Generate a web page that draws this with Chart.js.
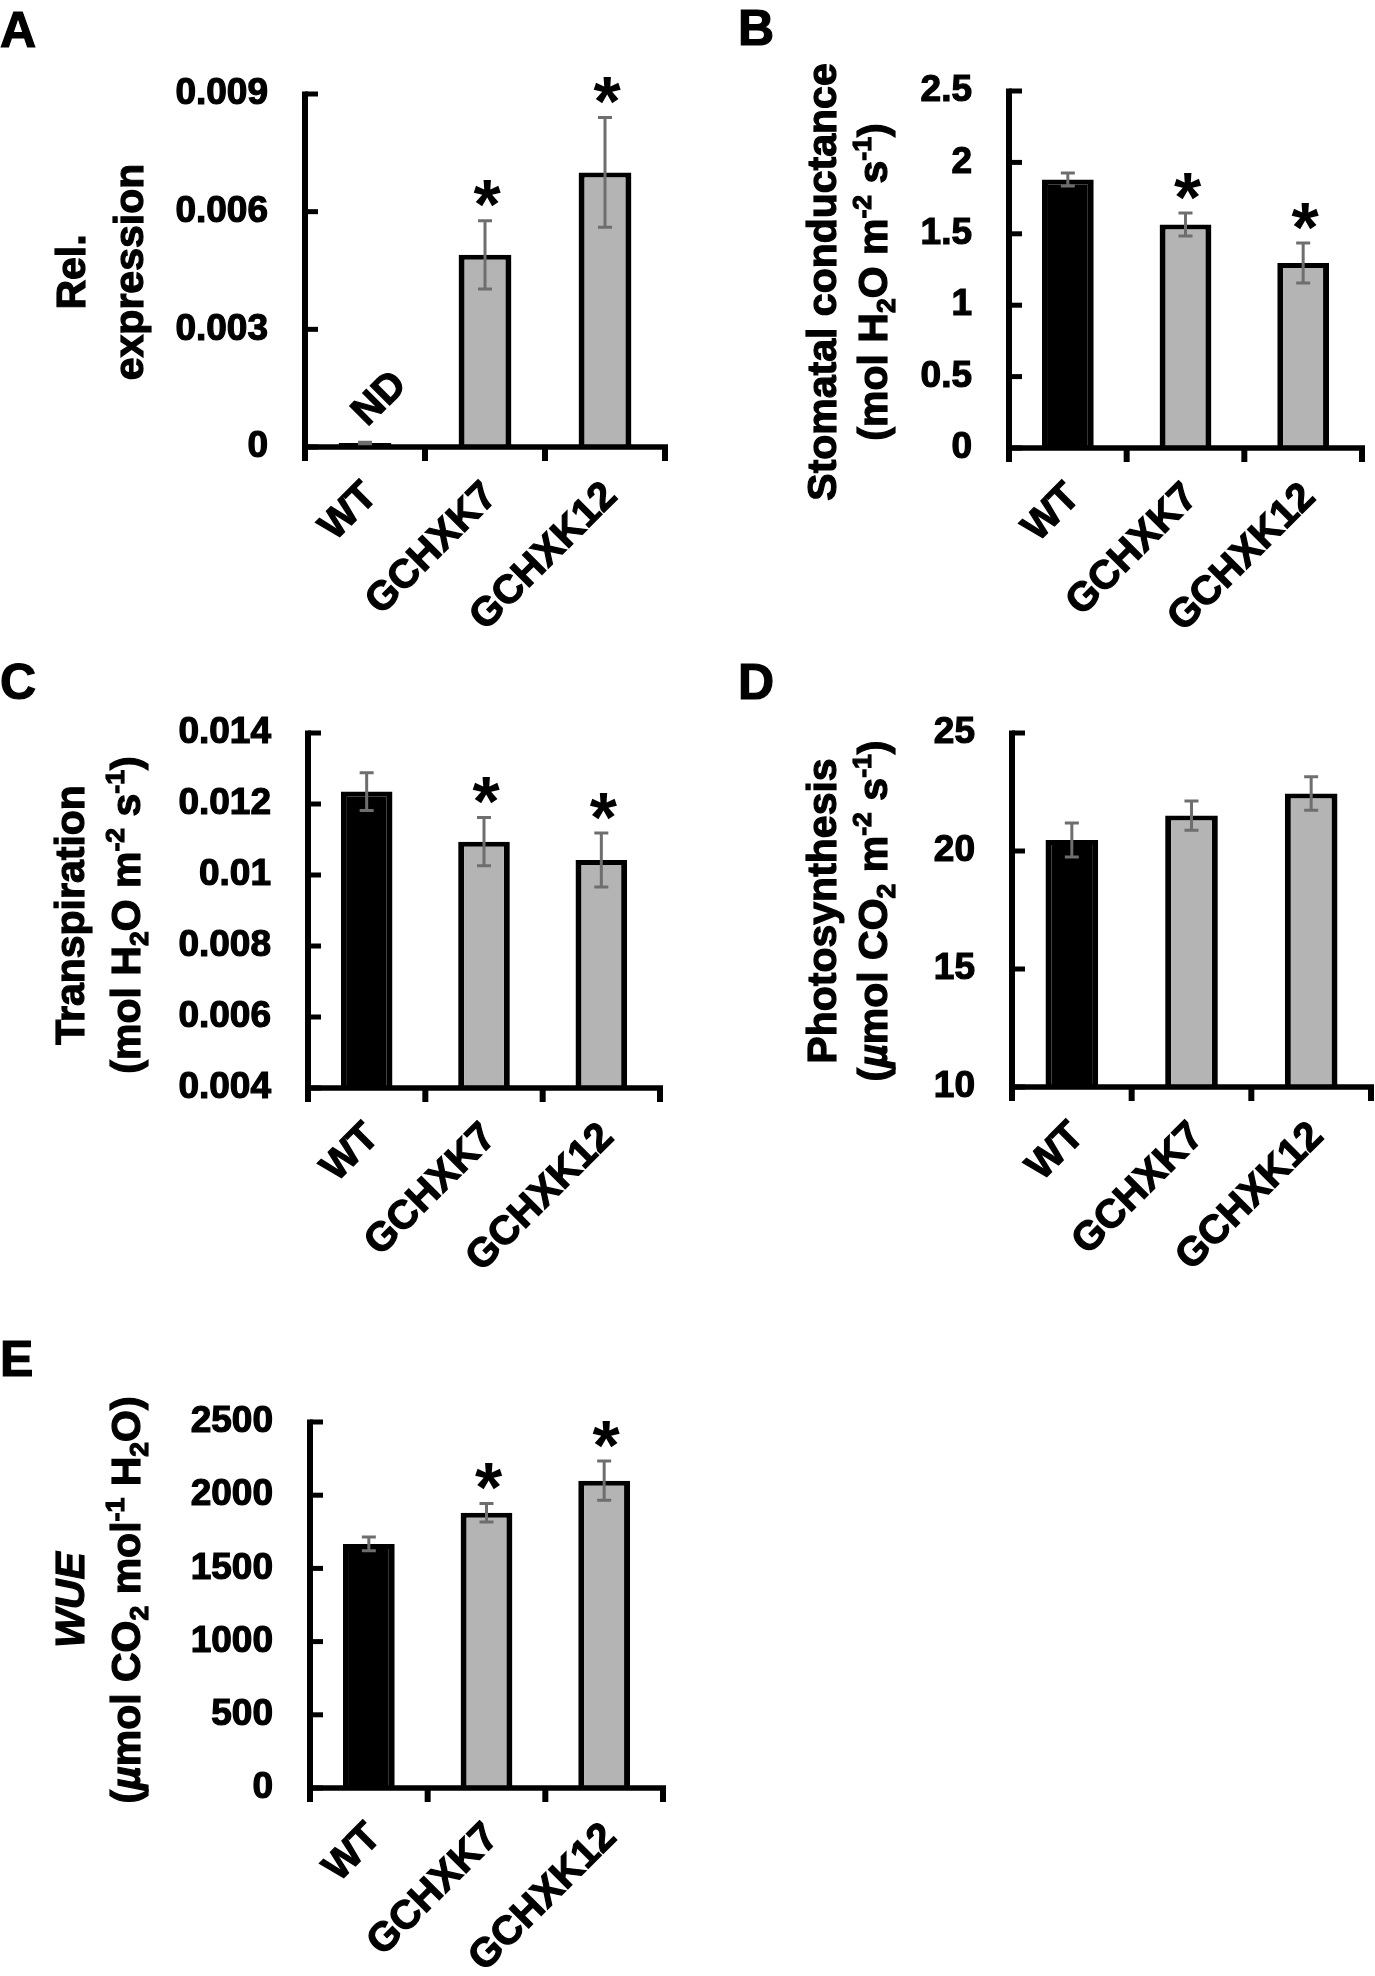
<!DOCTYPE html>
<html>
<head>
<meta charset="utf-8">
<script src="https://cdn.jsdelivr.net/npm/chart.js@4.4.1/dist/chart.umd.min.js"></script>
<style>
  html, body { margin:0; padding:0; background:#fff; width:1375px; height:1976px; overflow:hidden; }
  .panel { position:absolute; }
  .panel canvas { display:block; }
</style>
</head>
<body>
<div id="boxA" class="panel" style="left:0px;top:0px;width:690px;height:655px"><canvas id="cA"></canvas></div>
<div id="boxB" class="panel" style="left:690px;top:0px;width:700px;height:655px"><canvas id="cB"></canvas></div>
<div id="boxC" class="panel" style="left:0px;top:655px;width:690px;height:655px"><canvas id="cC"></canvas></div>
<div id="boxD" class="panel" style="left:690px;top:655px;width:700px;height:655px"><canvas id="cD"></canvas></div>
<div id="boxE" class="panel" style="left:0px;top:1310px;width:690px;height:666px"><canvas id="cE"></canvas></div>
<script>
// ---------------- DATA ----------------
const categories = ['WT', 'GCHXK7', 'GCHXK12'];

const relExpression    = [0.0001, 0.0049, 0.0070];
const relExpressionErr = [0.00002, 0.00087, 0.0014];
const relExpressionMark = ['ND', '*', '*'];
const ticksA      = [0, 0.003, 0.006, 0.009];
const tickLabelsA = ['0', '0.003', '0.006', '0.009'];

const stomatalConductance    = [1.88, 1.565, 1.295];
const stomatalConductanceErr = [0.045, 0.08, 0.14];
const stomatalConductanceMark = ['', '*', '*'];
const ticksB      = [0, 0.5, 1, 1.5, 2, 2.5];
const tickLabelsB = ['0', '0.5', '1', '1.5', '2', '2.5'];

const transpiration    = [0.01235, 0.01094, 0.01042];
const transpirationErr = [0.00053, 0.00068, 0.00076];
const transpirationMark = ['', '*', '*'];
const ticksC      = [0.004, 0.006, 0.008, 0.010, 0.012, 0.014];
const tickLabelsC = ['0.004', '0.006', '0.008', '0.01', '0.012', '0.014'];

const photosynthesis    = [20.47, 21.5, 22.44];
const photosynthesisErr = [0.72, 0.62, 0.71];
const photosynthesisMark = ['', '', ''];
const ticksD      = [10, 15, 20, 25];
const tickLabelsD = ['10', '15', '20', '25'];

const wue    = [1667, 1880, 2099];
const wueErr = [47, 63, 134];
const wueMark = ['', '*', '*'];
const ticksE      = [0, 500, 1000, 1500, 2000, 2500];
const tickLabelsE = ['0', '500', '1000', '1500', '2000', '2500'];

const barColors = ['#000000', '#b4b4b4', '#b4b4b4'];

// ---------------- STYLE ----------------
const FONT = '"Liberation Sans", Arial, Helvetica, sans-serif';
const TICK_SIZE = 37, CAT_SIZE = 40, TITLE_SIZE = 41, LETTER_SIZE = 50, STAR_SIZE = 70;
const TEXT_STROKE = 1.2;

function drawRich(ctx, segs, size) {
  const parts = segs.map(([t, st]) => {
    const sz = (st === 'sub' || st === 'sup') ? size * 0.65 : size;
    const f = (st === 'i' ? 'italic ' : '') + 'bold ' + sz + 'px ' + FONT;
    ctx.font = f;
    return { t, st, f, w: ctx.measureText(t).width };
  });
  const total = parts.reduce((a, p) => a + p.w, 0);
  let x = -total / 2;
  const base = size * 0.33;
  for (const p of parts) {
    ctx.font = p.f;
    let dy = 0;
    if (p.st === 'sub') dy = size * 0.2;
    if (p.st === 'sup') dy = -size * 0.38;
    ctx.fillText(p.t, x, base + dy);
    ctx.strokeText(p.t, x, base + dy);
    x += p.w;
  }
}

function makePanel(canvasId, spec) {
  const decor = {
    id: 'decor_' + canvasId,
    afterDatasetsDraw(chart) {
      const ctx = chart.ctx;
      const xs = chart.scales.x, ys = chart.scales.y;
      const ca = chart.chartArea;
      ctx.save();
      ctx.strokeStyle = '#000';
      ctx.lineCap = 'butt';
      // y axis
      const yTop = ys.getPixelForValue(spec.ticks[spec.ticks.length - 1]);
      ctx.lineWidth = 6;
      ctx.beginPath();
      ctx.moveTo(ca.left, yTop - 2.5);
      ctx.lineTo(ca.left, ca.bottom + 14);
      ctx.stroke();
      // y ticks (inward)
      ctx.lineWidth = 5;
      for (const v of spec.ticks) {
        const py = ys.getPixelForValue(v);
        ctx.beginPath();
        ctx.moveTo(ca.left, py);
        ctx.lineTo(ca.left + 13, py);
        ctx.stroke();
      }
      // x axis
      ctx.lineWidth = 5.5;
      ctx.beginPath();
      ctx.moveTo(ca.left, ca.bottom);
      ctx.lineTo(ca.right + 3, ca.bottom);
      ctx.stroke();
      // category boundary ticks
      ctx.lineWidth = 6;
      const n = categories.length;
      for (let i = 1; i <= n; i++) {
        let bx;
        if (i === n) bx = ca.right;
        else bx = (xs.getPixelForValue(i - 1) + xs.getPixelForValue(i)) / 2;
        ctx.beginPath();
        ctx.moveTo(bx, ca.bottom);
        ctx.lineTo(bx, ca.bottom + 14);
        ctx.stroke();
      }
      // error bars and marks
      const meta = chart.getDatasetMeta(0);
      meta.data.forEach((bar, i) => {
        const cx = bar.x;
        const top = ys.getPixelForValue(spec.values[i] + spec.errors[i]);
        const bot = ys.getPixelForValue(spec.values[i] - spec.errors[i]);
        ctx.strokeStyle = '#6e6e6e';
        ctx.lineWidth = 3;
        ctx.beginPath();
        ctx.moveTo(cx, top); ctx.lineTo(cx, bot);
        ctx.moveTo(cx - 7, top); ctx.lineTo(cx + 7, top);
        ctx.moveTo(cx - 7, bot); ctx.lineTo(cx + 7, bot);
        ctx.stroke();
        const mark = spec.marks[i];
        ctx.fillStyle = '#000';
        ctx.strokeStyle = '#000';
        if (mark === '*') {
          ctx.font = 'bold ' + STAR_SIZE + 'px ' + FONT;
          ctx.textAlign = 'center';
          ctx.textBaseline = 'alphabetic';
          const m = ctx.measureText('*');
          const centerY = top - 27;
          const baseY = centerY + (m.actualBoundingBoxAscent - m.actualBoundingBoxDescent) / 2;
          ctx.fillText('*', cx + 2, baseY);
        } else if (mark === 'ND') {
          ctx.save();
          ctx.translate(cx + 15, ys.getPixelForValue(spec.values[i]) - 44);
          ctx.rotate(-Math.PI / 4);
          ctx.font = 'bold ' + CAT_SIZE + 'px ' + FONT;
          ctx.textAlign = 'center';
          ctx.textBaseline = 'middle';
          ctx.lineWidth = TEXT_STROKE;
          ctx.fillText('ND', 0, 0);
          ctx.strokeText('ND', 0, 0);
          ctx.restore();
        }
      });
      ctx.restore();
    },
    afterDraw(chart) {
      const ctx = chart.ctx;
      ctx.save();
      ctx.fillStyle = '#000';
      ctx.strokeStyle = '#000';
      ctx.lineWidth = TEXT_STROKE;
      spec.titleLines.forEach((segs, k) => {
        ctx.save();
        ctx.translate(spec.titleX[k] - spec.ox, spec.titleY - spec.oy);
        ctx.rotate(-Math.PI / 2);
        ctx.textAlign = 'left';
        ctx.textBaseline = 'alphabetic';
        drawRich(ctx, segs, TITLE_SIZE);
        ctx.restore();
      });
      ctx.font = 'bold ' + LETTER_SIZE + 'px ' + FONT;
      ctx.textAlign = 'left';
      ctx.textBaseline = 'alphabetic';
      ctx.fillText(spec.letter, spec.letterX - spec.ox, spec.letterY - spec.oy);
      ctx.strokeText(spec.letter, spec.letterX - spec.ox, spec.letterY - spec.oy);
      ctx.restore();
    }
  };

  return new Chart(document.getElementById(canvasId), {
    type: 'bar',
    data: {
      labels: categories,
      datasets: [{
        data: spec.values,
        backgroundColor: barColors,
        borderColor: '#000',
        borderWidth: { top: 5, left: 6, right: 6, bottom: 0 },
        borderSkipped: 'start',
        barPercentage: 0.44,
        categoryPercentage: 1.0
      }]
    },
    options: {
      responsive: true,
      maintainAspectRatio: false,
      animation: false,
      events: [],
      layout: { padding: { left: 0, top: spec.padTop, right: spec.padRight, bottom: 0 } },
      plugins: { legend: { display: false }, tooltip: { enabled: false }, title: { display: false } },
      scales: {
        x: {
          offset: true,
          grid: { display: false, drawTicks: false },
          border: { display: false },
          ticks: {
            color: '#000',
            font: { family: FONT, size: CAT_SIZE, weight: 'bold' },
            textStrokeColor: '#000', textStrokeWidth: TEXT_STROKE,
            minRotation: 45, maxRotation: 45,
            padding: 26, labelOffset: 6, autoSkip: false
          },
          afterFit(s) { s.height = spec.xh; s.paddingLeft = 0; s.paddingRight = 0; }
        },
        y: {
          min: spec.ticks[0],
          max: spec.ticks[spec.ticks.length - 1],
          grid: { display: false, drawTicks: false },
          border: { display: false },
          afterBuildTicks(s) { s.ticks = spec.ticks.map(v => ({ value: v })); },
          ticks: {
            color: '#000',
            font: { family: FONT, size: TICK_SIZE, weight: 'bold' },
            textStrokeColor: '#000', textStrokeWidth: TEXT_STROKE,
            padding: 37,
            callback: (v, i) => spec.tickLabels[i]
          },
          afterFit(s) { s.width = spec.yw; s.paddingTop = 0; s.paddingBottom = 0; }
        }
      }
    },
    plugins: [decor]
  });
}

const H2O_UNITS = [['(mol H', ''], ['2', 'sub'], ['O m', ''], ['-2', 'sup'], [' s', ''], ['-1', 'sup'], [')', '']];

makePanel('cA', {
  values: relExpression, errors: relExpressionErr, marks: relExpressionMark,
  ticks: ticksA, tickLabels: tickLabelsA,
  ox: 0, oy: 0, padTop: 94, padRight: 25, yw: 305, xh: 208,
  titleLines: [[['Rel.', '']], [['expression', '']]], titleX: [71, 129], titleY: 272,
  letter: 'A', letterX: 0, letterY: 47
});
makePanel('cB', {
  values: stomatalConductance, errors: stomatalConductanceErr, marks: stomatalConductanceMark,
  ticks: ticksB, tickLabels: tickLabelsB,
  ox: 690, oy: 0, padTop: 91, padRight: 28, yw: 319, xh: 207,
  titleLines: [[['Stomatal conductance', '']], H2O_UNITS], titleX: [822, 873], titleY: 282,
  letter: 'B', letterX: 738, letterY: 45
});
makePanel('cC', {
  values: transpiration, errors: transpirationErr, marks: transpirationMark,
  ticks: ticksC, tickLabels: tickLabelsC,
  ox: 0, oy: 655, padTop: 78, padRight: 30, yw: 308, xh: 222,
  titleLines: [[['Transpiration', '']], H2O_UNITS], titleX: [70, 126], titleY: 915,
  letter: 'C', letterX: 0, letterY: 699
});
makePanel('cD', {
  values: photosynthesis, errors: photosynthesisErr, marks: photosynthesisMark,
  ticks: ticksD, tickLabels: tickLabelsD,
  ox: 690, oy: 655, padTop: 78, padRight: 19, yw: 322, xh: 223,
  titleLines: [[['Photosynthesis', '']],
               [['(', ''], ['\u00b5', 'i'], ['mol CO', ''], ['2', 'sub'], [' m', ''], ['-2', 'sup'], [' s', ''], ['-1', 'sup'], [')', '']]],
  titleX: [822, 873], titleY: 911,
  letter: 'D', letterX: 738, letterY: 699
});
makePanel('cE', {
  values: wue, errors: wueErr, marks: wueMark,
  ticks: ticksE, tickLabels: tickLabelsE,
  ox: 0, oy: 1310, padTop: 112, padRight: 27, yw: 310, xh: 188,
  titleLines: [[['WUE', 'i']],
               [['(', ''], ['\u00b5', 'i'], ['mol CO', ''], ['2', 'sub'], [' mol', ''], ['-1', 'sup'], [' H', ''], ['2', 'sub'], ['O)', '']]],
  titleX: [70, 126], titleY: 1600,
  letter: 'E', letterX: 0, letterY: 1376
});
</script>
</body>
</html>
